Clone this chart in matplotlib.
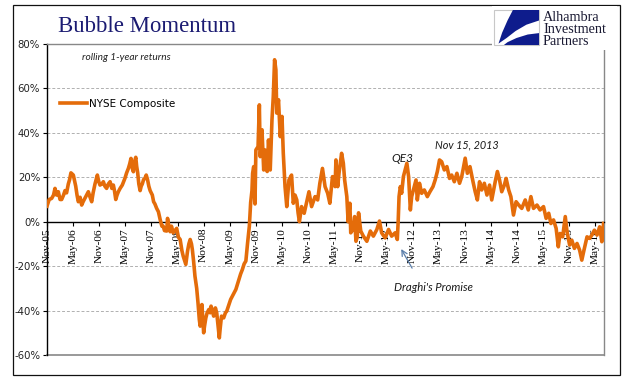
import matplotlib
matplotlib.use("Agg")
import matplotlib.pyplot as plt
from matplotlib.patches import Rectangle, Polygon

# ---------------- data ----------------
# time axis: months since Nov-2005
months = [0.0, 0.5, 1.07, 1.5, 1.84, 2.2, 2.6, 3.0, 3.37, 3.8, 4.14, 4.5, 4.9, 5.2, 5.5, 6.05, 6.6, 6.9,
          7.2, 7.6, 7.97, 8.3, 8.7, 9.1, 9.5, 9.9, 10.27, 10.6, 11.03, 11.57, 11.9, 12.18, 12.6, 12.95,
          13.3, 13.7, 14.1, 14.5, 14.9, 15.25, 15.5, 15.8, 16.1, 16.4, 16.8, 17.3, 17.6, 17.9, 18.3,
          18.7, 19.0, 19.3, 19.6, 19.85, 20.1, 20.4, 20.6, 20.84, 21.1, 21.4, 21.65, 21.9, 22.2, 22.5,
          22.8, 23.1, 23.4, 23.7, 24.2, 24.5, 24.8, 25.2, 25.6, 26.0, 26.4, 26.7, 27.0, 27.5, 27.7,
          28.0, 28.3, 28.6, 29.0, 29.4, 29.8, 30.2, 30.6, 31.0, 31.3, 31.9, 32.1, 32.3, 32.6, 32.9,
          33.2, 33.4, 33.7, 34.0, 34.4, 34.7, 35.0, 35.2, 35.4, 35.6, 35.8, 36.0, 36.2, 36.5, 36.8,
          37.2, 37.5, 37.7, 38.0, 38.3, 38.7, 39.0, 39.2, 39.6, 39.8, 40.1, 40.6, 41.0, 41.3, 41.8,
          42.2, 42.6, 43.0, 43.4, 43.8, 44.1, 44.5, 44.9, 45.3, 45.7, 46.1, 46.5, 46.8, 47.1, 47.25,
          47.5, 47.8, 48.0, 48.5, 48.8, 49.0, 49.4, 49.8, 50.1, 50.6, 50.9, 51.3, 51.7, 52.0, 52.3,
          52.6, 52.8, 53.2, 53.6, 54.0, 54.3, 54.7, 55.1, 55.6, 56.2, 56.6, 57.0, 57.4, 57.7, 58.0,
          58.5, 59.1, 59.7, 60.2, 60.8, 61.2, 61.6, 62.2, 62.7, 63.3, 63.9, 64.5, 65.0, 65.6, 66.2,
          66.4, 66.8, 67.1, 67.7, 68.1, 68.4, 68.9, 69.2, 69.6, 69.8, 70.2, 70.4, 70.7, 71.0, 71.3,
          71.6, 72.1, 72.7, 73.5, 74.3, 75.0, 75.8, 76.4, 76.9, 77.7, 78.5, 79.2, 80.0, 80.5, 80.7,
          80.9, 81.2, 81.5, 81.9, 82.3, 82.7, 83.1, 83.5, 83.8, 84.4, 84.8, 85.1, 85.6, 86.1, 86.7,
          87.4, 88.0, 88.7, 89.2, 89.7, 90.2, 90.7, 91.3, 91.9, 92.5, 93.0, 93.6, 94.2, 94.8, 95.3,
          95.6, 96.1, 96.6, 97.2, 97.9, 98.4, 98.9, 99.4, 99.9, 100.5, 101.1, 101.7, 102.2, 103.0,
          103.5, 104.0, 104.5, 105.1, 105.5, 106.1, 106.6, 107.2, 107.8, 108.4, 109.1, 109.9, 110.6,
          111.2, 111.8, 112.6, 113.3, 114.1, 114.7, 115.3, 115.8, 116.4, 117.0, 117.5, 117.9, 118.5,
          119.1, 119.5, 120.1, 120.6, 121.2, 121.8, 122.4, 122.9, 123.4, 124.1, 124.7, 125.2, 125.8,
          126.4, 127.0, 127.5, 127.9]
returns_pct = [7, 10, 10.5, 12, 15, 12, 13.5, 10, 10, 12, 14, 13, 17, 19, 22, 21, 16, 12,
               9, 11, 7.5, 9, 10.5, 12, 13.5, 11, 9, 13, 17, 21, 18, 16.5, 17, 18,
               16, 15, 17, 18, 15, 16.5, 14, 10, 12, 13.5, 15, 16.5, 18, 19.5, 22,
               24, 26, 28.5, 24, 22.5, 27, 29, 25, 22, 17, 14, 16, 17, 19, 19.5,
               21, 19, 16, 14, 12, 9, 8, 6, 4.5, 1, -2, -2, -4, -4.2, 1.5,
               -2, -4.5, -2, -5, -4, -3, -7, -8, -13, -15.5, -19.2, -16, -13.2, -10, -8,
               -10, -12.5, -18, -24.5, -30, -36.5, -44, -47, -42, -37.3, -44, -50, -47, -43.3, -41,
               -39.5, -41, -38, -40, -42.5, -38.8, -41, -44.8, -52.3, -48, -42.5, -43.3, -41, -40.3, -37.3,
               -35, -33.5, -32, -30.5, -28, -26, -23.5, -21.5, -19, -17.7, -9.5, -2, 8.6, 14, 21.8,
               24.8, 8, 32.3, 33.8, 52.6, 29.3, 41.4, 23.3, 32.3, 22.6, 36.8, 23.3, 45.9, 56.4, 72.9,
               68.4, 48.9, 54.9, 38.3, 47.4, 30.8, 15.8, 6.8, 18.8, 21, 8.3, 12, 9.8, 4, 0,
               6.8, 3.8, 9, 13.5, 6.8, 9, 11.3, 9.8, 17.3, 24, 15.8, 12.8, 8.3, 20.3, 15.8,
               27.8, 15.8, 21.8, 30.8, 26.3, 18.8, 11.3, 0, 8.3, -5, -3.8, -2, 2.3, -8.8, -6.8,
               4, -4.2, -6.5, -8.8, -4.2, -6.5, -3.5, 0.3, -5, -7.3, -3.5, -6.5, -5, -8, 0,
               11.3, 15.8, 12.8, 20.3, 23.3, 26.3, 20.3, 5.3, 11.3, 15.8, 18.8, 9.8, 17.3, 12.8, 14.3,
               11.3, 13.5, 15.8, 18.8, 22.6, 27.8, 27, 23.3, 24.8, 19.5, 21, 18, 21.8, 17.3, 20.3,
               23.3, 28.6, 21.8, 24.8, 18, 13.5, 9.8, 18, 14.3, 17.3, 12, 16.5, 9.8, 18,
               22.6, 18.8, 13.5, 16.5, 19.5, 14.3, 11.3, 3, 9, 7.5, 6, 9.8, 5.3,
               11.3, 6, 7.5, 5.3, 6.8, 1.5, 3.8, -0.8, 0.8, -3, -11.3, -5.3, -6.8,
               2.3, -4.5, -10.5, -8.3, -12, -9.8, -12.8, -17.3, -12.8, -6.8, -7.5, -6, -3.8,
               -6, -2.3, -9, -0.8]

tick_months = list(range(0, 127, 6))
tick_labels = ["Nov-05", "May-06", "Nov-06", "May-07", "Nov-07", "May-08", "Nov-08", "May-09",
               "Nov-09", "May-10", "Nov-10", "May-11", "Nov-11", "May-12", "Nov-12", "May-13",
               "Nov-13", "May-14", "Nov-14", "May-15", "Nov-15", "May-16"]
y_ticks = [-60, -40, -20, 0, 20, 40, 60, 80]
y_labels = ["-60%", "-40%", "-20%", "0%", "20%", "40%", "60%", "80%"]
series_name = "NYSE Composite"

# ---------------- figure ----------------
W, H = 641, 381
fig = plt.figure(figsize=(W / 100, H / 100), dpi=100)
fig.patch.set_facecolor("white")

# outer frame
fig.add_artist(Rectangle((13 / W, 1 - 375 / H), 607 / W, 370 / H, transform=fig.transFigure,
                         fill=False, edgecolor="#111111", linewidth=0.9))

ax = fig.add_axes([47 / W, 1 - 355 / H, 557 / W, 311 / H])
orange = "#E46C0A"
ax.plot(months, returns_pct, color=orange, linewidth=2.6, solid_joinstyle="round",
        label=series_name, zorder=3)

ax.set_xlim(0, 128)
ax.set_ylim(-60, 80)

# grid
for yv in [-40, -20, 20, 40, 60]:
    ax.axhline(yv, color="#B0B0B0", linewidth=0.7, linestyle=(0, (3, 2)), zorder=1)
ax.axhline(-60, color="#888888", linewidth=1.2, clip_on=False, zorder=2)

for s in ["top", "right"]:
    ax.spines[s].set_color("#888888")
    ax.spines[s].set_linewidth(1.0)
ax.spines["left"].set_color("black")
ax.spines["left"].set_linewidth(1.0)
ax.spines["bottom"].set_position(("data", 0))
ax.spines["bottom"].set_color("black")
ax.spines["bottom"].set_linewidth(1.0)
ax.spines["bottom"].set_zorder(2.5)

ax.set_xticks(tick_months)
ax.set_xticklabels(tick_labels, rotation=90, fontfamily="Liberation Serif", fontsize=8.2)
ax.tick_params(axis="x", direction="out", length=3, width=0.8, pad=1.5, colors="black")
ax.set_yticks(y_ticks)
ax.set_yticklabels(y_labels, fontfamily="DejaVu Sans", fontsize=7.3, color="#222222")
ax.tick_params(axis="y", direction="out", length=3, width=0.8, pad=2)

# legend
ax.legend(loc="upper left", bbox_to_anchor=(60 / W, 1 - 99 / H), bbox_transform=fig.transFigure,
          frameon=False, borderpad=0, borderaxespad=0, handlelength=2.6, handletextpad=0.2,
          prop={"family": "DejaVu Sans", "size": 7.5})

# texts
ax.text(126.5 / W, 1 - 57 / H, "rolling 1-year returns", transform=fig.transFigure,
        ha="center", va="center", fontsize=7.3, style="italic", family="Lato", color="#222222")
ax.text(81.6, 28.3, "QE3", ha="center", va="center", fontsize=8.5, style="italic",
        family="Lato", color="#1a1a1a")
ax.text(96.4, 34.6, "Nov 15, 2013", ha="center", va="center", fontsize=7.8, style="italic",
        family="Lato", color="#1a1a1a")
ax.text(88.85, -29.5, "Draghi's Promise", ha="center", va="center", fontsize=8.2, style="italic",
        family="Lato", color="#1a1a1a")
ax.annotate("", xy=(81.4, -12.3), xytext=(83.9, -20.9),
            arrowprops=dict(arrowstyle="->", color="#5A7EAA", lw=0.9, shrinkA=0, shrinkB=0))

# title
fig.text(58 / W, 1 - 32 / H, "Bubble Momentum", ha="left", va="baseline",
         family="Liberation Serif", fontsize=16.4, color="#1B1B72")

# logo
fig.add_artist(Rectangle((492 / W, 1 - 50 / H), 125 / W, 44 / H, transform=fig.transFigure,
                         facecolor="white", edgecolor="none", zorder=5))
lx0, ly0, lw, lh = 494, 10, 45, 35


def logo_pts(pts):
    return [((lx0 + px * lw) / W, 1 - (ly0 + (1 - py) * lh) / H) for px, py in pts]


fig.add_artist(Rectangle(((lx0) / W, 1 - (ly0 + lh) / H), lw / W, lh / H,
                         transform=fig.transFigure, facecolor="white", edgecolor="#C8C8C8",
                         linewidth=0.8, zorder=6))
upper = [(0.42, 1.0), (1.0, 1.0), (1.0, 0.7), (0.72, 0.58), (0.48, 0.4), (0.28, 0.2), (0.1, 0.04),
         (0.18, 0.35), (0.3, 0.7)]
lower = [(0.22, 0.0), (1.0, 0.0), (1.0, 0.34), (0.75, 0.3), (0.5, 0.2), (0.3, 0.08)]
fig.add_artist(Polygon(logo_pts(upper), closed=True, transform=fig.transFigure,
                       facecolor="#0E1C8C", edgecolor="none", zorder=7))
fig.add_artist(Polygon(logo_pts(lower), closed=True, transform=fig.transFigure,
                       facecolor="#0E1C8C", edgecolor="none", zorder=7))
for i, word in enumerate(["Alhambra", "Investment", "Partners"]):
    fig.text(543 / W, 1 - (21 + 12 * i) / H, word, ha="left", va="baseline",
             family="Liberation Serif", fontsize=10.2, color="#1a1a33", zorder=8)

fig.savefig("out.png", dpi=100, facecolor="white")
